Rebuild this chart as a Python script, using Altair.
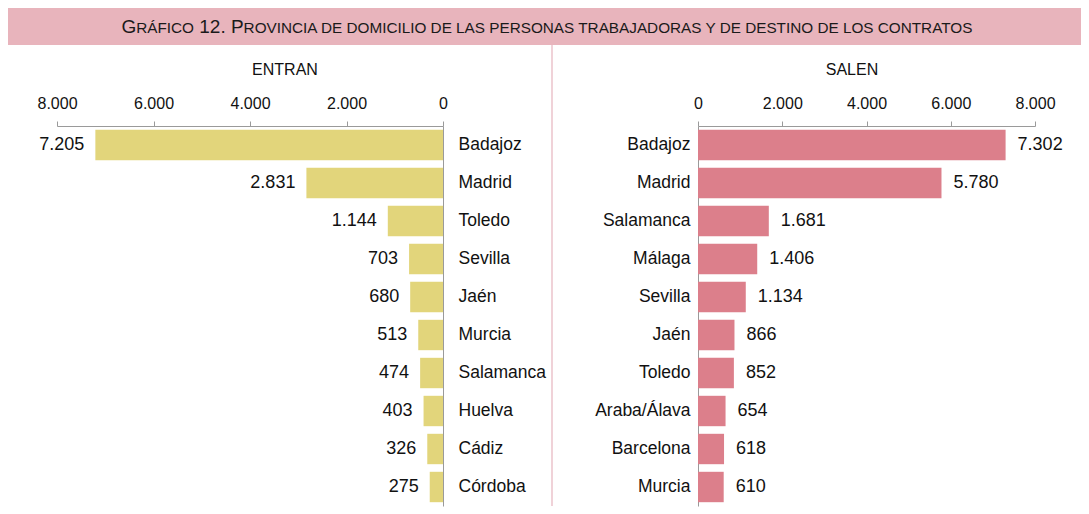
import altair as alt
import pandas as pd

# ---- data ----
entran_prov = ["Badajoz", "Madrid", "Toledo", "Sevilla", "Jaén", "Murcia",
               "Salamanca", "Huelva", "Cádiz", "Córdoba"]
entran_val = [7205, 2831, 1144, 703, 680, 513, 474, 403, 326, 275]
salen_prov = ["Badajoz", "Madrid", "Salamanca", "Málaga", "Sevilla", "Jaén",
              "Toledo", "Araba/Álava", "Barcelona", "Murcia"]
salen_val = [7302, 5780, 1681, 1406, 1134, 866, 852, 654, 618, 610]
tick_values = [0, 2000, 4000, 6000, 8000]
# small-caps title, split into large / small capital runs (" " = word gap)
title_segments = ["G", "RÁFICO", " ", "12.", " ", "P",
                  "ROVINCIA DE DOMICILIO DE LAS PERSONAS TRABAJADORAS Y DE DESTINO DE LOS CONTRATOS"]
title_big = [True, False, True, True, True, True, False]

# ---- styles ----
YELLOW = "#e2d57b"
PINK = "#dc7f8b"
BAND = "#e8b4bc"
DIVIDER = "#ebc3cb"
AXIS = "#9a9a9a"
TXT = "#111111"
FONT = "Liberation Sans"
BIG, SMALL = 19, 15.3
W_L, W_R, H = 386, 337, 380
OX = 49           # left plot origin offset from page content edge
TOTAL_W = 1073

fmt_axis = "replace(format(datum.value, ','), ',', '.')"
fmt_lab = "replace(format(datum.v, ','), ',', '.')"

# Arial / Liberation Sans advance widths (em) for title layout
AW = {" ": .278, ".": .278, "1": .556, "2": .556, "A": .667, "Á": .667,
      "B": .667, "C": .722, "D": .722, "E": .667, "F": .611, "G": .778, "I": .278,
      "J": .5, "L": .556, "M": .833, "N": .722, "O": .778, "P": .667, "R": .722,
      "S": .667, "T": .611, "V": .667, "Y": .667}


def tw(s, size):
    return sum(AW.get(c, .6) for c in s) * size


one = pd.DataFrame({"a": [0]})

# ---- title band (drawn in left panel's coordinates) ----
sizes = [BIG if b else SMALL for b in title_big]
total = sum(tw(s, z) for s, z in zip(title_segments, sizes))
cx = (TOTAL_W / 2 - OX) - total / 2 + 4
deco = [alt.Chart(one).mark_rect(color=BAND).encode(
    x=alt.value(-OX), x2=alt.value(TOTAL_W - OX), y=alt.value(-118), y2=alt.value(-81))]
for s, z in zip(title_segments, sizes):
    if s.strip():
        deco.append(alt.Chart(one).mark_text(
            align="left", baseline="alphabetic", fontSize=z, font=FONT, color="#1a1a1a", text=s
        ).encode(x=alt.value(cx), y=alt.value(-93)))
    cx += tw(s, z)
deco.append(alt.Chart(one).mark_rule(color=DIVIDER, strokeWidth=1.5).encode(
    x=alt.value(W_L + 109), y=alt.value(-81), y2=alt.value(H)))
deco.append(alt.Chart(one).mark_text(
    align="center", baseline="middle", fontSize=16, font=FONT, color=TXT, text="ENTRAN"
).encode(x=alt.value(228), y=alt.value(-56)))


def xaxis():
    return alt.Axis(orient="top", values=tick_values, labelExpr=fmt_axis, title=None,
                    grid=False, tickSize=5, labelPadding=10, labelFontSize=16,
                    labelFlush=False, labelOverlap=False, domainColor=AXIS, tickColor=AXIS,
                    labelColor=TXT, labelFont=FONT)


band_scale = alt.Scale(paddingInner=0.2, paddingOuter=0.1)

# ---- left: ENTRAN ----
df_in = pd.DataFrame({"p": entran_prov, "v": entran_val})
base_in = alt.Chart(df_in).transform_calculate(lab=fmt_lab)
yL = alt.Y("p:N", sort=entran_prov, scale=band_scale,
           axis=alt.Axis(orient="right", title=None, ticks=False, labelPadding=15,
                         labelFontSize=17.5, domainColor=AXIS, labelColor=TXT, labelFont=FONT))
bars_in = base_in.mark_bar(color=YELLOW).encode(
    x=alt.X("v:Q", scale=alt.Scale(domain=[0, 8000], reverse=True, nice=False), axis=xaxis()),
    y=yL)
text_in = base_in.mark_text(align="right", dx=-11, fontSize=18, font=FONT, color=TXT).encode(
    x="v:Q", y=alt.Y("p:N", sort=entran_prov), text="lab:N")
left = alt.layer(bars_in, text_in, *deco).properties(width=W_L, height=H)

# ---- right: SALEN ----
df_out = pd.DataFrame({"p": salen_prov, "v": salen_val})
base_out = alt.Chart(df_out).transform_calculate(lab=fmt_lab)
yR = alt.Y("p:N", sort=salen_prov, scale=band_scale,
           axis=alt.Axis(orient="left", title=None, ticks=False, labelPadding=8,
                         labelFontSize=17.5, domainColor=AXIS, labelColor=TXT, labelFont=FONT))
bars_out = base_out.mark_bar(color=PINK).encode(
    x=alt.X("v:Q", scale=alt.Scale(domain=[0, 8000], nice=False), axis=xaxis()),
    y=yR)
text_out = base_out.mark_text(align="left", dx=12, fontSize=18, font=FONT, color=TXT).encode(
    x="v:Q", y=alt.Y("p:N", sort=salen_prov), text="lab:N")
salen_title = alt.Chart(one).mark_text(
    align="center", baseline="middle", fontSize=16, font=FONT, color=TXT, text="SALEN"
).encode(x=alt.value(154), y=alt.value(-56))
right = alt.layer(bars_out, text_out, salen_title).properties(width=W_R, height=H)

chart = alt.hconcat(left, right, spacing=255, bounds="flush").properties(
    padding=0).configure_view(stroke=None)

chart.save("out.html", embed_options={"renderer": "svg", "actions": False})
